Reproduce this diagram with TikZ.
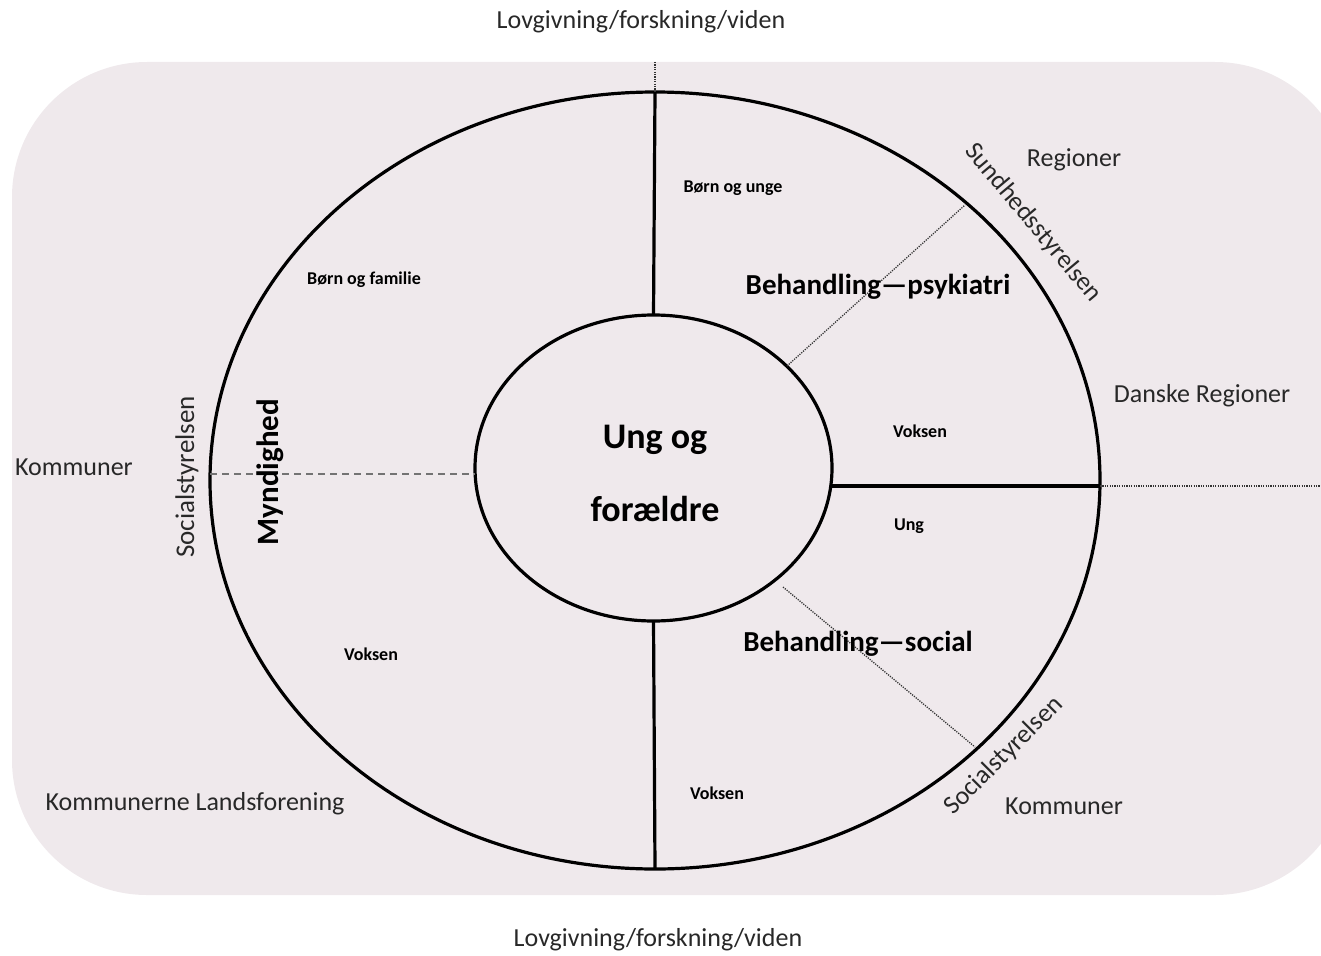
\documentclass[tikz,border=0pt]{standalone}
\usepackage{fontspec}
\setmainfont{Carlito}
\usetikzlibrary{shapes.geometric}
\definecolor{bgfill}{RGB}{239,233,236}
\definecolor{txt}{RGB}{40,40,40}
\begin{document}
\begin{tikzpicture}[x=1pt,y=-1pt,
  lbl/.style={font=\fontsize{26}{30}\selectfont, text=txt, inner sep=0pt},
  small/.style={font=\bfseries\fontsize{18}{21}\selectfont, inner sep=0pt},
  beh/.style={font=\bfseries\fontsize{29}{34}\selectfont, inner sep=0pt},
  big/.style={font=\bfseries\fontsize{36}{42}\selectfont, inner sep=0pt},
  ring/.style={ellipse, draw=black, line width=3.2pt, inner sep=0pt, outer sep=0pt},
  dotline/.style={line width=1.3pt, dash pattern=on 1.2pt off 1.2pt, black!80},
  dashline/.style={line width=1.6pt, dash pattern=on 7pt off 5pt, black!55},
  divider/.style={line width=3.2pt, black},
  thickdiv/.style={line width=4.5pt, black}]
\useasboundingbox (0,0) rectangle (1321,955);
\begin{scope}
  \clip (0,0) rectangle (1321,955);
  \fill[bgfill, rounded corners=135pt] (12,62) rectangle (1350,895);
\end{scope}

% rings
\node[ring, minimum width=890pt, minimum height=777pt] (outer) at (655,480.5) {};
\node[ring, minimum width=357pt, minimum height=306pt] (inner) at (653.5,468) {};

% named end points
\coordinate (topdot) at (655,62);
\coordinate (rin) at (832,486);
\coordinate (rout) at (1100,486);
\coordinate (redge) at (1321,486);
\coordinate (lout) at (210,474);
\coordinate (lin) at (475,474);
\coordinate (ui) at (787,366);
\coordinate (uo) at (965,205);
\coordinate (li) at (783,587);
\coordinate (lo) at (975,747);

% dividers
\draw[divider] (outer.north) -- (inner.north);
\draw[divider] (inner.south) -- (outer.south);
\draw[thickdiv] (rin) -- (rout);
\draw[dotline] (topdot) -- (outer.north);
\draw[dotline] (rout) -- (redge);
\draw[dashline] (lout) -- (lin);
\draw[dotline] (ui) -- (uo);
\draw[dotline] (li) -- (lo);

% center text
\node[big] (t1) at (655,440) {Ung og};
\node[big] (t2) at (655,509) {forældre};

% outer labels
\node[lbl] (lovtop) at (641,22) {Lovgivning/forskning/viden};
\node[lbl] (lovbot) at (658,940) {Lovgivning/forskning/viden};
\node[lbl] (reg) at (1074,160) {Regioner};
\node[lbl] (dreg) at (1202,396) {Danske Regioner};
\node[lbl] (komL) at (74,467) {Kommuner};
\node[lbl] (kl) at (195,804) {Kommunerne Landsforening};
\node[lbl] (komR) at (1064,806) {Kommuner};
\node[lbl, rotate=-50] (sst) at (1033,223) {Sundhedsstyrelsen};
\node[lbl, rotate=45] (socR) at (1004,756) {Socialstyrelsen};
\node[lbl, rotate=90, font=\fontsize{27}{30}\selectfont] (socL) at (187,477) {Socialstyrelsen};
\node[beh, rotate=90, font=\bfseries\fontsize{31}{34}\selectfont] (myn) at (270,472) {Myndighed};

% inner labels
\node[small] (bu) at (733,188) {Børn og unge};
\node[small] (bf) at (364,280) {Børn og familie};
\node[beh] (bp) at (878,287) {Behandling---psykiatri};
\node[small] (v1) at (920,431) {Voksen};
\node[small] (ung) at (909,526) {Ung};
\node[beh] (bs) at (858,644) {Behandling---social};
\node[small] (v2) at (371,654) {Voksen};
\node[small] (v3) at (717,793) {Voksen};
\end{tikzpicture}
\end{document}
